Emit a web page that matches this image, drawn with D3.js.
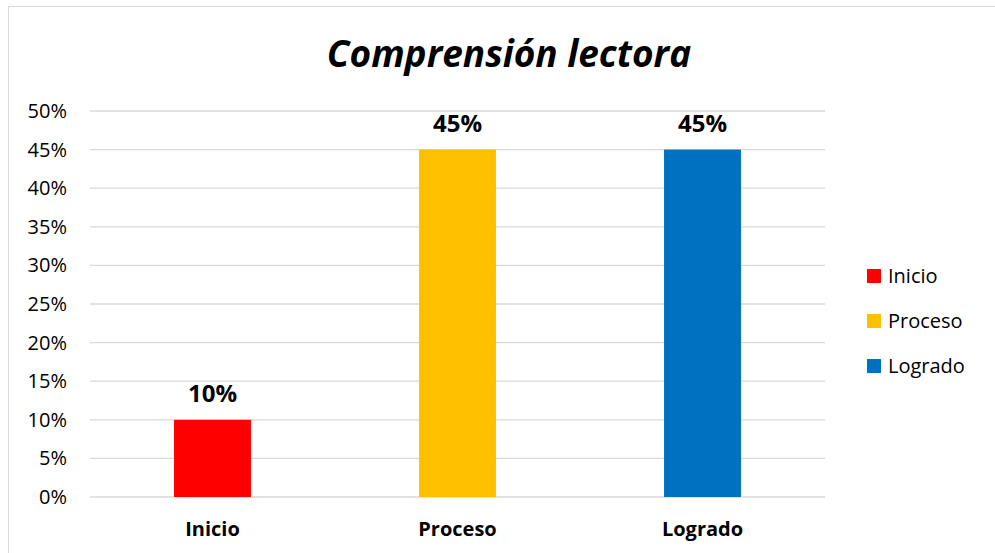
<!DOCTYPE html>
<html>
<head>
<meta charset="utf-8">
<script src="https://cdn.jsdelivr.net/npm/d3@7"></script>
<style>
	body { margin: 0; background: #fff; }
	text { font-family: "Open Sans", "Liberation Sans", sans-serif; fill: #000; }
</style>
</head>
<body>
<div id="chart"></div>
<script>
// Data
const categories = ["Inicio", "Proceso", "Logrado"];
const values = [0.10, 0.45, 0.45];
const colors = ["#ff0000", "#ffc000", "#0070c0"];
const yTicks = [0, 0.05, 0.10, 0.15, 0.20, 0.25, 0.30, 0.35, 0.40, 0.45, 0.50];

const width = 995,
			height = 553;

const margin = { top: 111, right: 170, bottom: 56, left: 90 };

const svg = d3.select("#chart")
	.append("svg")
		.attr("width", width)
		.attr("height", height);

// Chart border
svg.append("rect")
		.attr("x", 8.5)
		.attr("y", 6.5)
		.attr("width", width)
		.attr("height", height)
		.attr("fill", "none")
		.attr("stroke", "#d9d9d9")
		.attr("stroke-width", 1);

const x = d3.scaleBand()
		.domain(categories)
		.range([margin.left, width - margin.right])
		.paddingInner(0.686)
		.paddingOuter(0.343);

const y = d3.scaleLinear()
		.domain([0, 0.5])
		.range([height - margin.bottom, margin.top]);

// Gridlines
svg.append("g")
	.selectAll("line")
	.data(yTicks)
	.join("line")
		.attr("x1", margin.left)
		.attr("x2", width - margin.right)
		.attr("y1", d => y(d))
		.attr("y2", d => y(d))
		.attr("stroke", "#d9d9d9")
		.attr("stroke-width", 1.3);

// Y axis labels
const yAxis = svg.append("g")
		.attr("transform", `translate(${margin.left - 23},0)`)
		.call(d3.axisLeft(y).tickValues(yTicks).tickFormat(d3.format(".0%")).tickSize(0).tickPadding(0));
yAxis.select(".domain").remove();
yAxis.selectAll("text")
		.style("font-size", "20px")
		.style("font-family", "'Open Sans', sans-serif")
		.attr("fill", "#000");

// Bars
svg.append("g")
	.selectAll("rect")
	.data(values)
	.join("rect")
		.attr("x", (d, i) => x(categories[i]))
		.attr("y", d => y(d))
		.attr("width", x.bandwidth())
		.attr("height", d => y(0) - y(d))
		.attr("fill", (d, i) => colors[i]);

// Value labels
svg.append("g")
	.selectAll("text")
	.data(values)
	.join("text")
		.attr("x", (d, i) => x(categories[i]) + x.bandwidth() / 2)
		.attr("y", d => y(d) - 18)
		.attr("text-anchor", "middle")
		.style("font-size", "24px")
		.style("font-weight", "bold")
		.text(d => d3.format(".0%")(d));

// Category labels
svg.append("g")
	.selectAll("text")
	.data(categories)
	.join("text")
		.attr("x", d => x(d) + x.bandwidth() / 2)
		.attr("y", height - 17)
		.attr("text-anchor", "middle")
		.style("font-size", "20px")
		.style("font-weight", "bold")
		.text(d => d);

// Title
svg.append("text")
		.attr("x", 509)
		.attr("y", 67)
		.attr("text-anchor", "middle")
		.style("font-size", "37px")
		.style("font-weight", "bold")
		.style("font-style", "italic")
		.text("Comprensión lectora");

// Legend
const legend = svg.append("g")
	.selectAll("g")
	.data(categories)
	.join("g")
		.attr("transform", (d, i) => `translate(867, ${276 + i * 45})`);

legend.append("rect")
		.attr("x", 0)
		.attr("y", -7)
		.attr("width", 14)
		.attr("height", 14)
		.attr("fill", (d, i) => colors[i]);

legend.append("text")
		.attr("x", 21)
		.attr("dy", "0.35em")
		.style("font-size", "20px")
		.text(d => d);
</script>
</body>
</html>
